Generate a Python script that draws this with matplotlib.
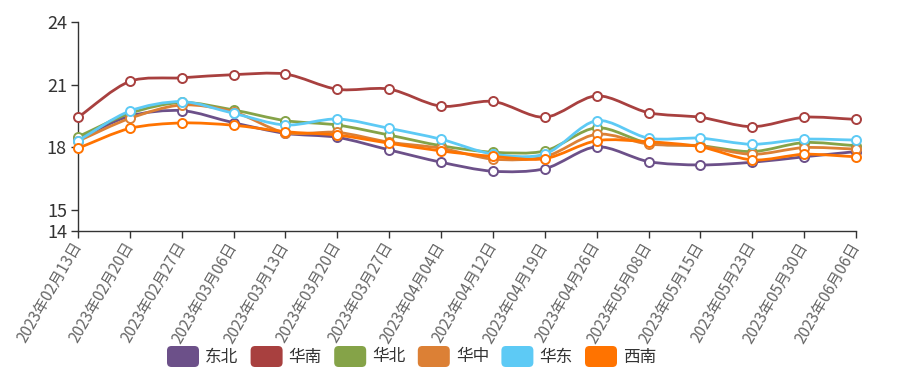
import numpy as np
import matplotlib
matplotlib.use("Agg")
import matplotlib.pyplot as plt
from matplotlib.path import Path
from matplotlib.patches import PathPatch, FancyBboxPatch

plt.rcParams['font.family'] = ['Noto Sans CJK SC', 'DejaVu Sans']

# weekly price by region
dates = ["2023年02月13日", "2023年02月20日", "2023年02月27日", "2023年03月06日",
         "2023年03月13日", "2023年03月20日", "2023年03月27日", "2023年04月04日",
         "2023年04月12日", "2023年04月19日", "2023年04月26日", "2023年05月08日",
         "2023年05月15日", "2023年05月23日", "2023年05月30日", "2023年06月06日"]
names = ["东北", "华南", "华北", "华中", "华东", "西南"]
colors = ["#6c5089", "#a8403f", "#85a348", "#dc8035", "#5dcaf5", "#ff7300"]

dongbei = [18.40, 19.50, 19.76, 19.18, 18.67, 18.48, 17.88, 17.29, 16.86, 16.98, 18.03, 17.32, 17.16, 17.29, 17.55, 17.80]
huanan = [19.44, 21.16, 21.33, 21.48, 21.51, 20.78, 20.79, 19.97, 20.20, 19.44, 20.47, 19.66, 19.44, 18.99, 19.44, 19.34]
huabei = [18.51, 19.63, 20.15, 19.79, 19.28, 19.07, 18.59, 18.08, 17.77, 17.83, 18.94, 18.20, 18.08, 17.80, 18.23, 18.08]
huazhong = [18.30, 19.39, 20.03, 19.70, 18.70, 18.72, 18.25, 17.96, 17.44, 17.55, 18.63, 18.16, 18.06, 17.67, 17.99, 17.92]
huadong = [18.32, 19.74, 20.19, 19.63, 19.07, 19.36, 18.91, 18.39, 17.68, 17.68, 19.28, 18.44, 18.44, 18.15, 18.39, 18.35]
xinan = [17.96, 18.91, 19.17, 19.06, 18.75, 18.59, 18.20, 17.83, 17.57, 17.46, 18.32, 18.27, 18.03, 17.40, 17.67, 17.55]
series = [dongbei, huanan, huabei, huazhong, huadong, xinan]

yticks = [14, 15, 18, 21, 24]

W, H = 900, 375
fig = plt.figure(figsize=(W / 100, H / 100), dpi=100)
ax = fig.add_axes([78 / W, 1 - 231 / H, (856 - 78) / W, (231 - 22) / H])
x = np.arange(len(dates))
ax.set_xlim(0, len(dates) - 1)
ax.set_ylim(14, 24)


def smooth_path(xs, ys, smooth=0.3):
    # bezier smoothing through the points, computed in pixel space
    pts = ax.transData.transform(np.column_stack([xs, ys]))
    n = len(pts)
    verts = [pts[0]]
    codes = [Path.MOVETO]
    cps = []
    for i in range(n):
        p = pts[i]
        prev = pts[i - 1] if i > 0 else p
        nxt = pts[i + 1] if i < n - 1 else p
        v = nxt - prev
        d0 = np.hypot(*(p - prev))
        d1 = np.hypot(*(nxt - p))
        r = d0 / (d0 + d1) if d0 + d1 > 0 else 0.5
        cps.append((p - v * smooth * r, p + v * smooth * (1 - r)))
    for i in range(n - 1):
        verts += [cps[i][1], cps[i + 1][0], pts[i + 1]]
        codes += [Path.CURVE4] * 3
    inv = ax.transData.inverted()
    return Path(inv.transform(np.array(verts)), codes)


for k, (vals, c) in enumerate(zip(series, colors)):
    ax.add_patch(PathPatch(smooth_path(x, vals), fill=False, edgecolor=c,
                           lw=2.0, zorder=3 + k * 0.1, capstyle='round'))
    ax.plot(x, vals, ls='none', marker='o', ms=6.5, mfc='white', mec=c,
            mew=1.4, zorder=3.05 + k * 0.1, clip_on=False)

for s in ['top', 'right']:
    ax.spines[s].set_visible(False)
for s in ['left', 'bottom']:
    ax.spines[s].set_color('#333333')
    ax.spines[s].set_linewidth(1.0)
ax.set_yticks(yticks)
ax.set_yticklabels([str(t) for t in yticks], fontsize=13, color='#333333')
ax.set_xticks(x)
ax.set_xticklabels(dates, rotation=60, ha='right', va='center',
                   rotation_mode='anchor', fontsize=11, color='#666666')
ax.tick_params(axis='both', direction='out', length=5, color='#333333', width=1)
ax.tick_params(axis='x', pad=4)
ax.tick_params(axis='y', pad=3)

# legend
lx0, step = 167, 83.6
for k, (nm, c) in enumerate(zip(names, colors)):
    lx = lx0 + k * step
    box = FancyBboxPatch((lx / W, 1 - 367 / H), 32 / W, 21 / H,
                         boxstyle="round,pad=0,rounding_size=0.005",
                         transform=fig.transFigure, facecolor=c, edgecolor='none',
                         mutation_aspect=W / H)
    fig.add_artist(box)
    fig.text((lx + 38) / W, 1 - 357 / H, nm, fontsize=12, color='#333333',
             ha='left', va='center')

fig.savefig("out.png", dpi=100)
